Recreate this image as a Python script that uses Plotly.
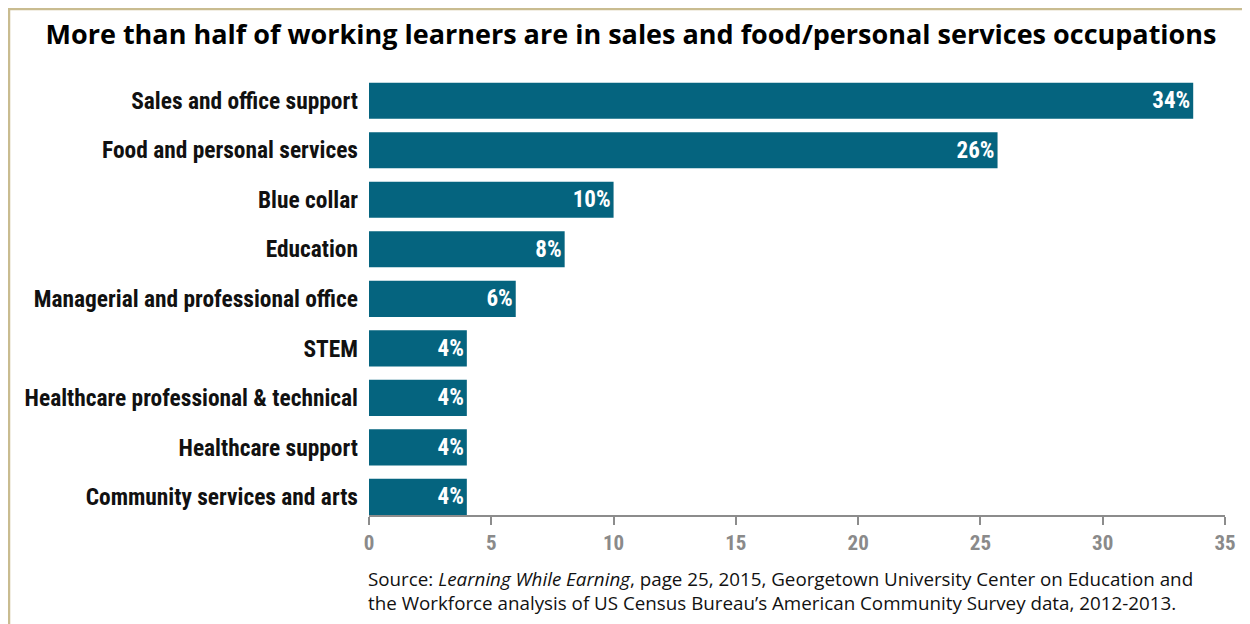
import plotly.graph_objects as go

categories = [
    "Sales and office support",
    "Food and personal services",
    "Blue collar",
    "Education",
    "Managerial and professional office",
    "STEM",
    "Healthcare professional & technical",
    "Healthcare support",
    "Community services and arts",
]
values = [33.7, 25.7, 10.0, 8.0, 6.0, 4.0, 4.0, 4.0, 4.0]
value_labels = ["34%", "26%", "10%", "8%", "6%", "4%", "4%", "4%", "4%"]
x_ticks = [0, 5, 10, 15, 20, 25, 30, 35]
source_lines = [
    "Source: <i>Learning While Earning</i>, page 25, 2015, Georgetown University Center on Education and",
    "the Workforce analysis of US Census Bureau\u2019s American Community Survey data, 2012-2013.",
]

COND = "Liberation Sans Narrow, Roboto Condensed, DejaVu Sans Condensed, sans-serif"
BODY = "Open Sans, Noto Sans, sans-serif"

OFF = 8  # page body margin
W, H = 1250 - OFF, 624 - OFF
L, R, T, B = 369 - OFF, 25, 71 - OFF, 109
pw = W - L - R
ph = H - T - B
AX = 515 - OFF  # axis pixel y within figure


def px_x(px):
    return (px - OFF - L) / pw


def px_y(py):
    return (AX - (py - OFF)) / ph


fig = go.Figure(go.Bar(
    x=values, y=categories, orientation="h",
    marker=dict(color="#05647f", line=dict(width=0)),
    width=0.73,
    text=value_labels, textposition="inside", insidetextanchor="end",
    textfont=dict(family=COND, size=23, color="white", weight="bold"),
    cliponaxis=False,
))

fig.update_layout(
    width=W, height=H,
    margin=dict(l=L, r=R, t=T, b=B),
    paper_bgcolor="white", plot_bgcolor="white",
    showlegend=False,
    title=dict(
        text="<b>More than half of working learners are in sales and food/personal services occupations</b>",
        x=px_x(631), xref="paper", xanchor="center",
        y=1 - (35 - OFF) / H, yanchor="middle",
        font=dict(family=BODY, size=27, color="black"),
    ),
    xaxis=dict(
        range=[0, 35], tickvals=x_ticks, showgrid=False, zeroline=False,
        showline=True, linecolor="#8c8c8c", linewidth=2,
        ticks="outside", ticklen=8, tickwidth=2, tickcolor="#8c8c8c",
        tickfont=dict(family=COND, size=21, color="#8a8a8a", weight="bold"),
        fixedrange=True,
    ),
    yaxis=dict(
        categoryorder="array", categoryarray=categories,
        range=[8.365, -0.6], showgrid=False, zeroline=False, showline=False,
        ticks="", ticklabelstandoff=10,
        tickfont=dict(family=COND, size=23.4, color="#111111", weight="bold"),
        fixedrange=True,
    ),
)

# source note
fig.add_annotation(
    xref="paper", yref="paper", x=px_x(366), y=px_y(590.5),
    xanchor="left", yanchor="middle", showarrow=False, align="left",
    text="<br>".join(source_lines),
    font=dict(family=BODY, size=18.8, color="#111111"),
)

# frame lines (top and left)
border = "#c9bc90"
fig.add_shape(type="line", xref="paper", yref="paper",
              x0=px_x(8), x1=px_x(1260), y0=px_y(9), y1=px_y(9),
              line=dict(color=border, width=2.5))
fig.add_shape(type="line", xref="paper", yref="paper",
              x0=px_x(9), x1=px_x(9), y0=px_y(9), y1=px_y(640),
              line=dict(color=border, width=2.5))

fig.write_html("out.html")
